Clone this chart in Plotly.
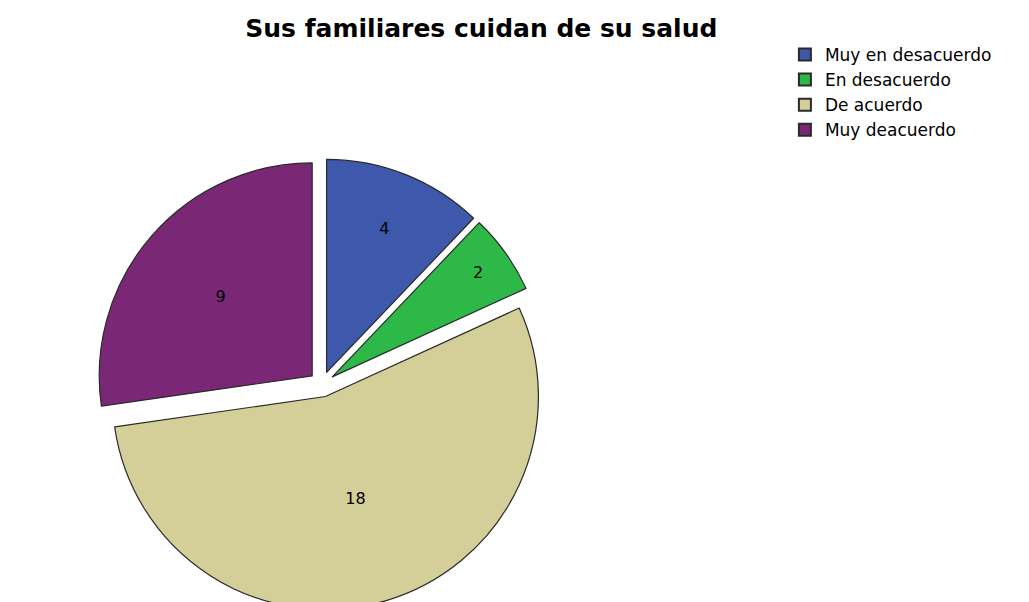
import plotly.graph_objects as go

categories = ["Muy en desacuerdo", "En desacuerdo", "De acuerdo", "Muy deacuerdo"]
values = [4, 2, 18, 9]
colors = ["#3E58AC", "#2EB848", "#D4CE98", "#7A2876"]
title_text = "Sus familiares cuidan de su salud"

fig = go.Figure(go.Pie(
    labels=categories,
    values=values,
    sort=False,
    direction="clockwise",
    rotation=0,
    pull=[0.06, 0.06, 0.06, 0.06],
    marker=dict(colors=colors, line=dict(color="#2a2a2a", width=1.2)),
    textinfo="value",
    textposition="inside",
    insidetextorientation="horizontal",
    textfont=dict(family="DejaVu Sans, sans-serif", size=16, color="black"),
    domain=dict(x=[0.0, 0.61], y=[0.0, 0.75]),
    hoverinfo="label+value",
))

fig.update_layout(
    width=1029, height=602,
    margin=dict(l=0, r=0, t=0, b=0),
    paper_bgcolor="white",
    plot_bgcolor="white",
    title=dict(text=f"<b>{title_text}</b>", x=0.46, xanchor="center", y=0.966, yanchor="middle",
               font=dict(family="DejaVu Sans, sans-serif", size=25, color="black")),
    legend=dict(x=0.755, y=0.952, xanchor="left", yanchor="top",
                font=dict(family="DejaVu Sans, sans-serif", size=17, color="black"),
                tracegroupgap=0, itemsizing="constant", bgcolor="rgba(0,0,0,0)"),
    showlegend=True,
)

fig.write_html("out.html")
